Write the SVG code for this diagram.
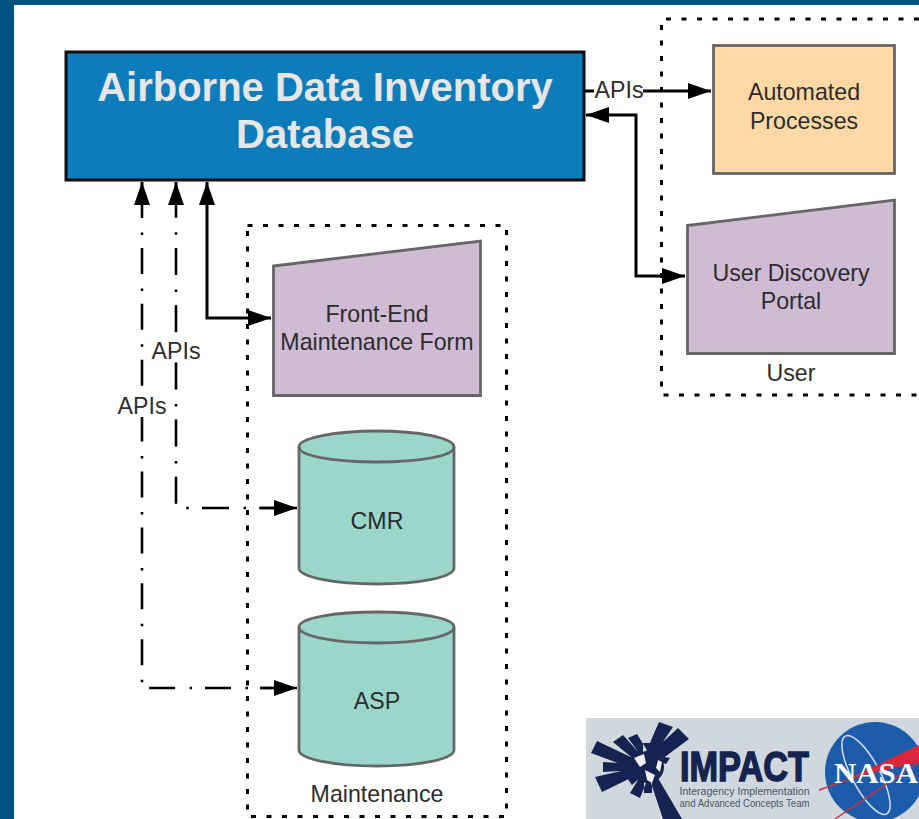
<svg xmlns="http://www.w3.org/2000/svg" width="919" height="819" viewBox="0 0 919 819">
<style>
text{font-family:"Liberation Sans",Arial,sans-serif;fill:#2c2c2c;font-size:23.200px;text-anchor:middle}
.shape{stroke:#666;stroke-width:2.800}
.group{fill:none;stroke:#000;stroke-width:3;stroke-dasharray:5 10.500}
.conn{fill:none;stroke:#000;stroke-width:3}
.dd{stroke-width:2.600}
</style>
<defs>
<marker id="a" markerUnits="userSpaceOnUse" markerWidth="24" markerHeight="16" refX="23" refY="8" orient="auto-start-reverse"><path d="M0 0L23 8L0 16Z" fill="#000"/></marker>
</defs>
<rect width="919" height="819" fill="#fff"/>
<path d="M0 0H919V5H14V819H0Z" fill="#005282"/>
<g id="group-maintenance"><rect class="group" x="247.500" y="225.500" width="259" height="591"/><text x="377" y="802">Maintenance</text></g>
<g id="group-user"><path class="group" d="M919 19H661.500V395H919"/><text x="791" y="381">User</text></g>
<g id="connectors">
<path class="conn" d="M585 91H594"/>
<path class="conn" d="M643 91H711" marker-end="url(#a)"/>
<path class="conn" d="M586 115H636V276H685" marker-start="url(#a)" marker-end="url(#a)"/>
<path class="conn" d="M207 182V318H271" marker-start="url(#a)" marker-end="url(#a)"/>
<path class="conn dd" d="M176 182V508H296" stroke-dasharray="27 14.500 2.500 13.200" stroke-dashoffset="48.400"/>
<path class="conn dd" d="M142 182V688H296" stroke-dasharray="26 14.500 2.500 12.900" stroke-dashoffset="45.900"/>
<path class="conn" d="M176 205V182" marker-end="url(#a)"/>
<path class="conn" d="M142 205V182" marker-end="url(#a)"/>
<path class="conn dd" d="M260 508H297" marker-end="url(#a)"/>
<path class="conn dd" d="M260 688H297" marker-end="url(#a)"/>
<rect x="151" y="340" width="50" height="22" fill="#fff"/>
<rect x="117" y="395" width="51" height="22" fill="#fff"/>
<text x="176" y="359">APIs</text>
<text x="142" y="414">APIs</text>
<text x="619" y="98">APIs</text>
</g>
<g id="database"><rect x="66" y="52" width="518" height="128" fill="#0c7cbb" stroke="#111" stroke-width="3"/>
<text x="325" y="101" style="font-size:40px;font-weight:700;fill:#e6e6e6">Airborne Data Inventory</text>
<text x="325" y="148" style="font-size:40px;font-weight:700;fill:#e6e6e6">Database</text></g>
<g id="automated-processes"><rect class="shape" x="713.500" y="45.500" width="181" height="128" fill="#fed9a6" stroke="#444"/><text x="804" y="100">Automated</text><text x="804" y="129">Processes</text></g>
<g id="user-discovery-portal"><path class="shape" d="M687.500 225.500L894.500 200V353.500H687.500Z" fill="#d0bbd4"/><text x="791" y="281">User Discovery</text><text x="791" y="309">Portal</text></g>
<g id="maintenance-form"><path class="shape" d="M273.500 266L480.500 241V395.500H273.500Z" fill="#d0bbd4"/><text x="377" y="322">Front-End</text><text x="377" y="350">Maintenance Form</text></g>
<g id="cmr"><path class="shape" d="M299 447V568C299 577 334 584 377 584S454 577 454 568V447C454 438 419 431 377 431S299 438 299 447Z" fill="#9ad6ca"/><path class="shape" d="M299 447C299 456 334 462 377 462S454 456 454 447" fill="none"/><text x="377" y="529">CMR</text></g>
<g id="asp"><path class="shape" d="M299 627V750C299 759 334 766 377 766S454 759 454 750V627C454 618 419 612 377 612S299 618 299 627Z" fill="#9ad6ca"/><path class="shape" d="M299 627C299 636 334 643 377 643S454 636 454 627" fill="none"/><text x="377" y="709">ASP</text></g>
<g id="logo">
<rect x="586" y="718" width="333" height="101" fill="#d0d8dd"/>
<g fill="#14234f">
<path d="M659 722L673 727L654 755L646 752ZM678 728L689 739L658 762L652 752ZM637 734L628 738L642 757L648 752ZM623 735L613 742L636 761L641 755ZM597 741L591 753L634 769L637 760ZM603 762L603 772L636 770L636 764ZM595 777L602 792L637 775L634 768ZM627 778L632 785L642 776L638 771ZM630 793L640 798L648 778L641 775ZM644 780H652V793H644ZM650 780L663 819H682L658 778ZM643 743H652V754H643Z"/>
<circle cx="648" cy="767" r="16"/>
<path d="M664 757L670 758L666 764L660 762Z"/>
</g>
<path d="M634 758L644 754L646 763L640 767ZM645 770L655 775L652 783L647 780ZM658 760L662 762L660 772L656 768Z" fill="#eef0f2"/>
<text x="744.500" y="781" textLength="129" lengthAdjust="spacingAndGlyphs" style="font-size:43px;font-weight:700;fill:#14234f;stroke:#14234f;stroke-width:1.500">IMPACT</text>
<text x="744.500" y="795" textLength="130" lengthAdjust="spacingAndGlyphs" style="font-size:10px;fill:#4a5568">Interagency Implementation</text>
<text x="744.500" y="807" textLength="130" lengthAdjust="spacingAndGlyphs" style="font-size:10px;fill:#4a5568">and Advanced Concepts Team</text>
<circle cx="875" cy="772" r="50" fill="#1c5cab"/>
<ellipse cx="866" cy="775" rx="14" ry="44" transform="rotate(-28 866 775)" fill="none" stroke="#d5e0ee" stroke-width="1.500"/>
<path d="M919 745L850 778L919 762Z" fill="#e1243a"/>
<path d="M819 790L919 755M835 819L919 762" stroke="#c9304a" stroke-width="1.500" fill="none"/>
<text x="834" y="783" textLength="84" lengthAdjust="spacingAndGlyphs" style="font-size:29px;font-weight:700;fill:#fff;text-anchor:start;font-family:'Liberation Serif',serif">NASA</text>
</g>
</svg>
